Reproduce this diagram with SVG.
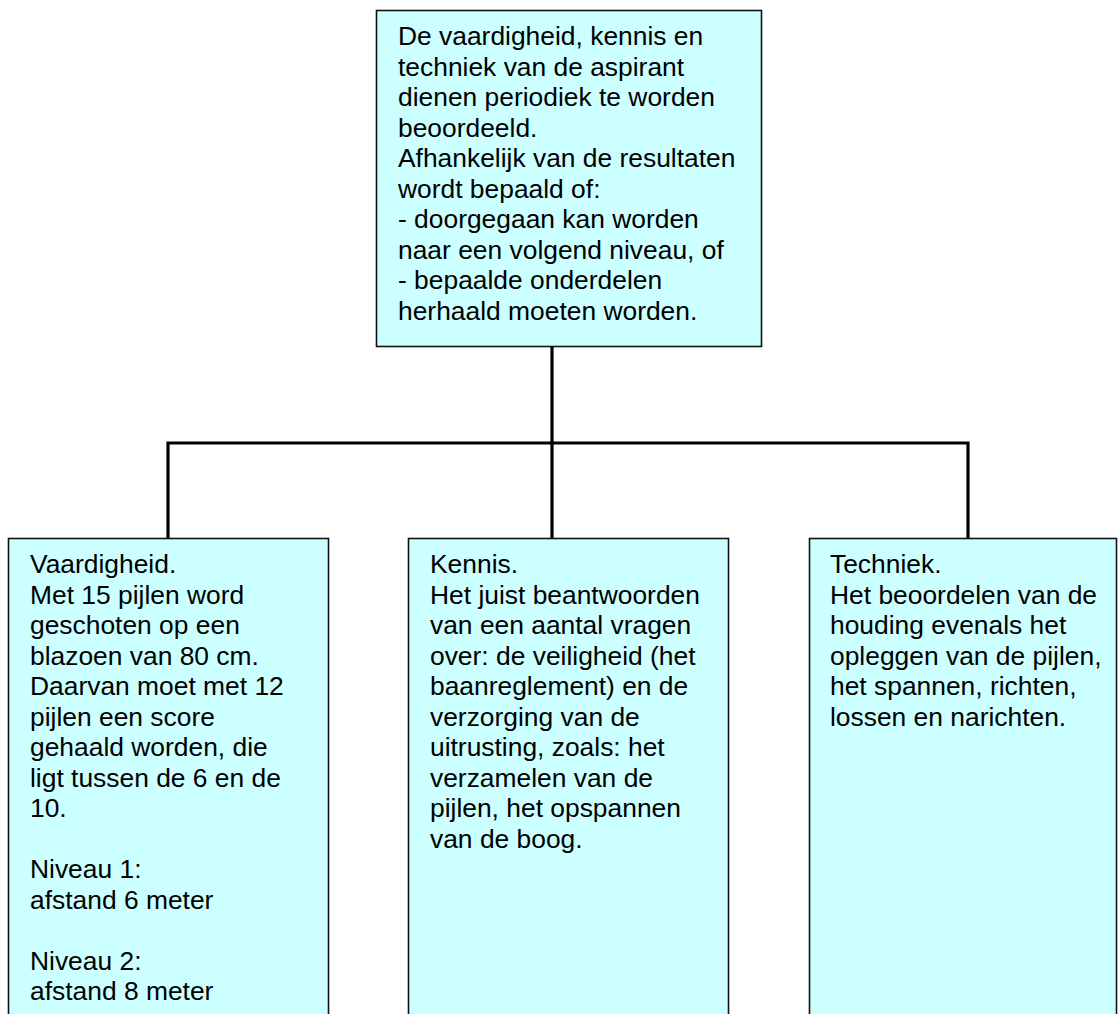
<svg xmlns="http://www.w3.org/2000/svg" width="1118" height="1014" viewBox="0 0 1118 1014">
<style>
.box{fill:#ccffff;stroke:#111;stroke-width:1.6}
.t{font-family:"Liberation Sans",Arial,sans-serif;font-size:26.4px;fill:#000}
.c{fill:none;stroke:#000;stroke-width:3.2;stroke-linejoin:miter;stroke-linecap:butt}
</style>
<rect width="1118" height="1014" fill="#fff"/>
<g id="connectors">
<path class="c" d="M552,346 V538"/>
<path class="c" d="M168,538 V443 H968 V538"/>
</g>
<g id="top">
<rect class="box" x="376.5" y="10.5" width="385" height="336"/>
<text class="t" x="398" y="45">
<tspan x="398" y="45">De vaardigheid, kennis en</tspan>
<tspan x="398" y="75.5">techniek van de aspirant</tspan>
<tspan x="398" y="106">dienen periodiek te worden</tspan>
<tspan x="398" y="136.5">beoordeeld.</tspan>
<tspan x="398" y="167">Afhankelijk van de resultaten</tspan>
<tspan x="398" y="197.5">wordt bepaald of:</tspan>
<tspan x="398" y="228">- doorgegaan kan worden</tspan>
<tspan x="398" y="258.5">naar een volgend niveau, of</tspan>
<tspan x="398" y="289">- bepaalde onderdelen</tspan>
<tspan x="398" y="319.5">herhaald moeten worden.</tspan>
</text>
</g>
<g id="vaardigheid">
<rect class="box" x="8.5" y="538.5" width="320" height="500"/>
<text class="t">
<tspan x="30" y="573">Vaardigheid.</tspan>
<tspan x="30" y="603.5">Met 15 pijlen word</tspan>
<tspan x="30" y="634">geschoten op een</tspan>
<tspan x="30" y="664.5">blazoen van 80 cm.</tspan>
<tspan x="30" y="695">Daarvan moet met 12</tspan>
<tspan x="30" y="725.5">pijlen een score</tspan>
<tspan x="30" y="756">gehaald worden, die</tspan>
<tspan x="30" y="786.5">ligt tussen de 6 en de</tspan>
<tspan x="30" y="817">10.</tspan>
<tspan x="30" y="878">Niveau 1:</tspan>
<tspan x="30" y="908.5">afstand 6 meter</tspan>
<tspan x="30" y="969.5">Niveau 2:</tspan>
<tspan x="30" y="1000">afstand 8 meter</tspan>
</text>
</g>
<g id="kennis">
<rect class="box" x="408.5" y="538.5" width="320" height="500"/>
<text class="t">
<tspan x="430" y="573">Kennis.</tspan>
<tspan x="430" y="603.5">Het juist beantwoorden</tspan>
<tspan x="430" y="634">van een aantal vragen</tspan>
<tspan x="430" y="664.5">over: de veiligheid (het</tspan>
<tspan x="430" y="695">baanreglement) en de</tspan>
<tspan x="430" y="725.5">verzorging van de</tspan>
<tspan x="430" y="756">uitrusting, zoals: het</tspan>
<tspan x="430" y="786.5">verzamelen van de</tspan>
<tspan x="430" y="817">pijlen, het opspannen</tspan>
<tspan x="430" y="847.5">van de boog.</tspan>
</text>
</g>
<g id="techniek">
<rect class="box" x="809.5" y="538.5" width="307" height="500"/>
<text class="t">
<tspan x="830" y="573">Techniek.</tspan>
<tspan x="830" y="603.5">Het beoordelen van de</tspan>
<tspan x="830" y="634">houding evenals het</tspan>
<tspan x="830" y="664.5">opleggen van de pijlen,</tspan>
<tspan x="830" y="695">het spannen, richten,</tspan>
<tspan x="830" y="725.5">lossen en narichten.</tspan>
</text>
</g>
</svg>
